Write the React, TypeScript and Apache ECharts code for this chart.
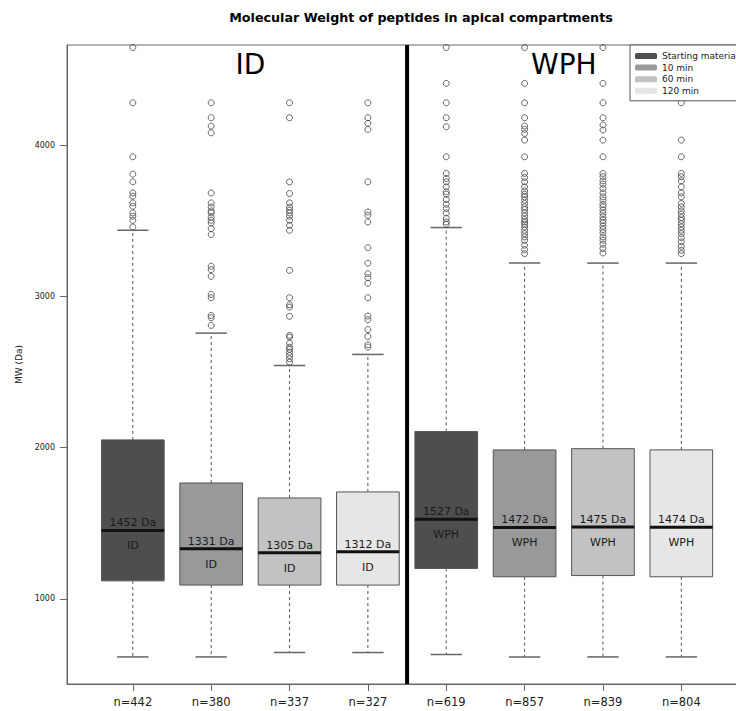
import React, { useEffect, useRef } from "react";
import * as echarts from "echarts";

const chartTitle = "Molecular Weight of peptides in apical compartments";
const yAxisName = "MW (Da)";
const groups = ["ID", "WPH"];
const timePoints = ["Starting material", "10 min", "60 min", "120 min"];
const timeColors = ["#4e4e4e", "#999999", "#c2c2c2", "#e6e6e6"];
const sampleSizes = ["n=442", "n=380", "n=337", "n=327", "n=619", "n=857", "n=839", "n=804"];
const whiskerLow = [616, 616, 645, 645, 632, 616, 616, 616];
const lowerQuartile = [1119, 1091, 1091, 1091, 1201, 1146, 1154, 1146];
const medians = [1452, 1331, 1305, 1312, 1527, 1472, 1475, 1474];
const upperQuartile = [2051, 1766, 1667, 1707, 2106, 1985, 1993, 1985];
const whiskerHigh = [3437, 2757, 2543, 2616, 3455, 3220, 3220, 3220];
const outliers = [
  [4645, 4280, 3923, 3808, 3757, 3684, 3662, 3618, 3596, 3552, 3530, 3503, 3459],
  [4280, 4181, 4126, 4081, 3684, 3618, 3591, 3565, 3552, 3525, 3503, 3485, 3448, 3409, 3199, 3177, 3132, 3013, 2991, 2874, 2859, 2808],
  [4280, 4181, 3757, 3680, 3618, 3591, 3570, 3552, 3530, 3503, 3470, 3437, 3172, 2991, 2944, 2929, 2868, 2742, 2731, 2691, 2664, 2650, 2631, 2609, 2587, 2565],
  [4280, 4181, 4144, 4104, 3757, 3558, 3536, 3492, 3322, 3220, 3150, 3124, 3087, 2991, 2870, 2846, 2780, 2735, 2680, 2665],
  [4645, 4408, 4280, 4181, 4121, 3923, 3813, 3779, 3757, 3724, 3691, 3675, 3640, 3609, 3581, 3552, 3515, 3492, 3477],
  [4645, 4408, 4280, 4181, 4126, 4104, 4077, 4033, 3923, 3813, 3786, 3757, 3724, 3697, 3675, 3658, 3636, 3614, 3591, 3574, 3552, 3530, 3508, 3492, 3477, 3459, 3437, 3415, 3393, 3371, 3338, 3309, 3283],
  [4645, 4408, 4280, 4181, 4133, 4100, 4033, 3923, 3813, 3791, 3764, 3742, 3713, 3684, 3658, 3636, 3609, 3591, 3570, 3548, 3525, 3503, 3486, 3464, 3442, 3420, 3393, 3371, 3345, 3316, 3287],
  [4280, 4033, 3923, 3813, 3791, 3764, 3724, 3684, 3658, 3614, 3591, 3565, 3543, 3521, 3503, 3481, 3459, 3437, 3415, 3389, 3360, 3331, 3305, 3283],
];
const yTicks = [1000, 2000, 3000, 4000];
const yRange = [437, 4662];
const xRange = [0.16, 8.8];

const FONT = "DejaVu Sans";

export default function App() {
  const ref = useRef<HTMLDivElement>(null);
  useEffect(() => {
    document.body.style.margin = "0";
    const chart = echarts.init(ref.current!, null, { renderer: "svg" });
    const nT = timePoints.length;
    const xPositions = sampleSizes.map((_, k) => k + 1);

    const renderBox = (params: any, api: any) => {
      const x = api.value(0);
      const gi = api.value(6);
      const pMin = api.coord([x, api.value(1)]);
      const yQ1 = api.coord([x, api.value(2)])[1];
      const yMed = api.coord([x, api.value(3)])[1];
      const yQ3 = api.coord([x, api.value(4)])[1];
      const yMax = api.coord([x, api.value(5)])[1];
      const cx = pMin[0];
      const half = api.size([0.8, 0])[0] / 2;
      const capHalf = half / 2;
      const fill = api.visual("color");
      const whiskerStyle = { stroke: "#555", lineWidth: 1, lineDash: [3, 3] };
      const capStyle = { stroke: "#666", lineWidth: 1.5 };
      return {
        type: "group",
        children: [
          { type: "line", shape: { x1: cx, y1: yQ1, x2: cx, y2: pMin[1] }, style: whiskerStyle },
          { type: "line", shape: { x1: cx, y1: yQ3, x2: cx, y2: yMax }, style: whiskerStyle },
          { type: "line", shape: { x1: cx - capHalf, y1: pMin[1], x2: cx + capHalf, y2: pMin[1] }, style: capStyle },
          { type: "line", shape: { x1: cx - capHalf, y1: yMax, x2: cx + capHalf, y2: yMax }, style: capStyle },
          {
            type: "rect",
            shape: { x: cx - half, y: yQ3, width: half * 2, height: yQ1 - yQ3 },
            style: { fill, stroke: "#555", lineWidth: 1 },
          },
          {
            type: "line",
            shape: { x1: cx - half, y1: yMed, x2: cx + half, y2: yMed },
            style: { stroke: "#111", lineWidth: 3 },
          },
          {
            type: "text",
            x: cx,
            y: yMed - 2,
            style: {
              text: `${api.value(3)} Da`,
              fill: "#1a1a1a",
              fontSize: 11,
              fontFamily: FONT,
              align: "center",
              verticalAlign: "bottom",
            },
          },
          {
            type: "text",
            x: cx,
            y: yMed + 15.5,
            style: {
              text: groups[gi],
              fill: "#1a1a1a",
              fontSize: 11,
              fontFamily: FONT,
              align: "center",
              verticalAlign: "middle",
            },
          },
        ],
      };
    };

    const boxSeries = timePoints.map((name, t) => ({
      name,
      type: "custom",
      itemStyle: { color: timeColors[t] },
      renderItem: renderBox,
      encode: { x: 0, y: [1, 2, 3, 4, 5] },
      data: groups.map((_, gi) => {
        const k = gi * nT + t;
        return [xPositions[k], whiskerLow[k], lowerQuartile[k], medians[k], upperQuartile[k], whiskerHigh[k], gi];
      }),
      z: 2,
    }));

    const groupCenters = groups.map((_, gi) => {
      const xs = xPositions.slice(gi * nT, gi * nT + nT);
      return (xs[0] + xs[xs.length - 1]) / 2;
    });

    const option: any = {
      animation: false,
      title: {
        text: chartTitle,
        left: 421,
        top: 11,
        padding: 0,
        textAlign: "center",
        textStyle: { fontSize: 12.7, fontWeight: "bold", fontFamily: FONT, color: "#000" },
      },
      legend: {
        data: timePoints,
        orient: "vertical",
        left: 630,
        top: 45,
        padding: [6, 10, 5, 5],
        itemGap: 1.6,
        itemWidth: 22,
        itemHeight: 6,
        icon: "roundRect",
        borderColor: "#555",
        borderWidth: 1,
        backgroundColor: "#fff",
        selectedMode: false,
        textStyle: { fontSize: 9, fontFamily: FONT, color: "#222", lineHeight: 10 },
      },
      grid: {
        left: 67,
        top: 45,
        width: 677,
        bottom: 27,
        outerBoundsMode: "none",
        containLabel: false,
        show: true,
        borderColor: "#666",
        borderWidth: 1,
        backgroundColor: "transparent",
      },
      xAxis: {
        type: "value",
        min: xRange[0],
        max: xRange[1],
        axisLine: { show: true, lineStyle: { color: "#666" } },
        axisTick: { show: true, length: 7, customValues: xPositions, lineStyle: { color: "#666" } },
        axisLabel: {
          customValues: xPositions,
          formatter: (v: number) => sampleSizes[Math.round(v) - 1] ?? "",
          fontSize: 11.5,
          fontFamily: FONT,
          color: "#222",
          margin: 12,
        },
        splitLine: { show: false },
      },
      yAxis: {
        type: "value",
        min: yRange[0],
        max: yRange[1],
        name: yAxisName,
        nameLocation: "middle",
        nameGap: 39,
        nameRotate: 90,
        nameTextStyle: { fontSize: 9, fontFamily: FONT, color: "#222" },
        axisLine: { show: true, lineStyle: { color: "#666" } },
        axisTick: { show: true, length: 7, customValues: yTicks, lineStyle: { color: "#666" } },
        axisLabel: {
          customValues: yTicks,
          formatter: (v: number) => String(v),
          fontSize: 8,
          fontFamily: FONT,
          color: "#222",
          margin: 12,
        },
        splitLine: { show: false },
      },
      series: [
        ...boxSeries,
        {
          type: "scatter",
          name: "outliers",
          symbol: "circle",
          symbolSize: 6,
          itemStyle: { color: "transparent", borderColor: "#444", borderWidth: 1 },
          data: outliers.flatMap((arr, k) => arr.map((v) => [xPositions[k], v])),
          z: 3,
        },
        {
          type: "line",
          name: "separator",
          symbol: "none",
          silent: true,
          lineStyle: { color: "#000", width: 4 },
          data: [
            [nT + 0.5, yRange[0]],
            [nT + 0.5, yRange[1]],
          ],
          z: 3,
        },
        {
          type: "custom",
          name: "groupTitles",
          silent: true,
          data: groups.map((_, gi) => [groupCenters[gi], yRange[1], gi]),
          encode: { x: 0, y: 1 },
          renderItem: (params: any, api: any) => {
            const p = api.coord([api.value(0), api.value(1)]);
            return {
              type: "text",
              x: p[0],
              y: params.coordSys.y + 19,
              style: {
                text: groups[api.value(2)],
                fill: "#000",
                fontSize: 28,
                fontFamily: FONT,
                align: "center",
                verticalAlign: "middle",
              },
            };
          },
          z: 3,
        },
      ],
    };
    chart.setOption(option);
    return () => chart.dispose();
  }, []);
  return <div ref={ref} style={{ width: 736, height: 711 }} />;
}
